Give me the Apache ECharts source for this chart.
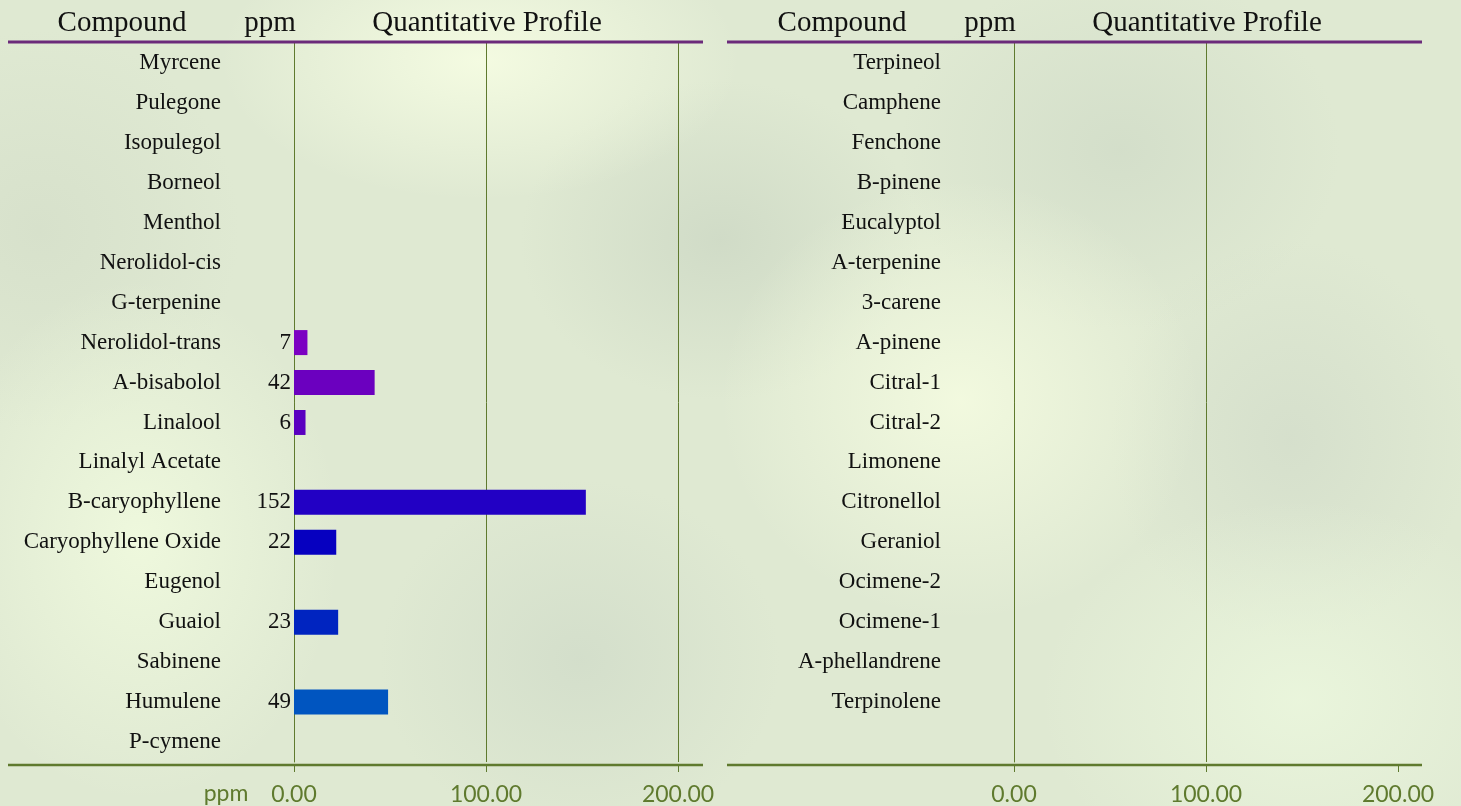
<!DOCTYPE html>
<html>
<head>
    <meta charset="utf-8">
    <title>Quantitative Profile</title>
    <script src="https://cdn.jsdelivr.net/npm/echarts@6/dist/echarts.min.js"></script>
    <style>
        html, body { margin: 0; padding: 0; }
        body {
            width: 1461px; height: 806px; overflow: hidden;
            background-color: #dfe9d2;
            background-image:
                radial-gradient(ellipse 260px 140px at 480px 60px, rgba(245,252,226,0.95), rgba(245,252,226,0)),
                radial-gradient(ellipse 200px 260px at 140px 540px, rgba(240,250,222,0.9), rgba(240,250,222,0)),
                radial-gradient(ellipse 240px 220px at 960px 400px, rgba(244,251,224,0.9), rgba(244,251,224,0)),
                radial-gradient(ellipse 260px 200px at 1300px 700px, rgba(236,248,222,0.8), rgba(236,248,222,0)),
                radial-gradient(ellipse 200px 160px at 720px 240px, rgba(196,208,190,0.55), rgba(196,208,190,0)),
                radial-gradient(ellipse 220px 180px at 1120px 150px, rgba(200,212,194,0.5), rgba(200,212,194,0)),
                radial-gradient(ellipse 200px 180px at 580px 660px, rgba(200,212,196,0.5), rgba(200,212,196,0)),
                radial-gradient(ellipse 180px 200px at 1290px 440px, rgba(204,214,198,0.5), rgba(204,214,198,0)),
                radial-gradient(ellipse 200px 200px at 40px 230px, rgba(205,215,195,0.45), rgba(205,215,195,0));
        }
    </style>
</head>
<body>

<div id="main" style="width: 1461px;height:806px;"></div>

<script type="text/javascript">

    // 左侧化合物
    var leftNames = ['Myrcene', 'Pulegone', 'Isopulegol', 'Borneol', 'Menthol', 'Nerolidol-cis',
        'G-terpenine', 'Nerolidol-trans', 'A-bisabolol', 'Linalool', 'Linalyl Acetate',
        'B-caryophyllene', 'Caryophyllene Oxide', 'Eugenol', 'Guaiol', 'Sabinene',
        'Humulene', 'P-cymene'];
    var leftPpm = [null, null, null, null, null, null, null, 7, 42, 6, null, 152, 22, null, 23, null, 49, null];
    var leftColors = ['', '', '', '', '', '', '', '#7b00c2', '#6b00bf', '#5a00c0', '',
        '#2200c4', '#0600c0', '', '#0024c0', '', '#0055c0', ''];

    // 右侧化合物
    var rightNames = ['Terpineol', 'Camphene', 'Fenchone', 'B-pinene', 'Eucalyptol', 'A-terpenine',
        '3-carene', 'A-pinene', 'Citral-1', 'Citral-2', 'Limonene', 'Citronellol', 'Geraniol',
        'Ocimene-2', 'Ocimene-1', 'A-phellandrene', 'Terpinolene', ''];
    var rightPpm = [null, null, null, null, null, null, null, null, null, null, null, null,
        null, null, null, null, null, null];

    var axisTicks = [0, 100, 200];

    var olive = '#5f7a2e';
    var purple = '#6b2a7a';
    var serif = "'Liberation Serif', 'DejaVu Serif', serif";

    var myChart = echarts.init(document.getElementById('main'));

    function xAxisFor(idx, splitColors) {
        return {
            type: 'value',
            gridIndex: idx,
            min: axisTicks[0],
            max: axisTicks[axisTicks.length - 1],
            interval: axisTicks[1] - axisTicks[0],
            offset: 3,
            axisLine: {show: false},
            axisTick: {show: true, length: 7, lineStyle: {color: olive, width: 1}},
            axisLabel: {
                margin: 18,
                color: olive,
                fontFamily: 'Lato',
                fontSize: 23,
                formatter: function (v) { return v.toFixed(2); }
            },
            splitLine: {show: true, lineStyle: {color: splitColors, width: 1}}
        };
    }

    function yAxisFor(idx, names) {
        return {
            type: 'category',
            gridIndex: idx,
            inverse: true,
            data: names,
            axisLine: {show: true, lineStyle: {color: olive, width: 1}},
            axisTick: {show: false},
            axisLabel: {margin: 73, color: '#111', fontFamily: serif, fontSize: 23, padding: [4, 0, 0, 0]}
        };
    }

    function barSeries(idx, values, colors) {
        return {
            type: 'bar',
            xAxisIndex: idx,
            yAxisIndex: idx,
            barWidth: 25,
            data: values.map(function (v, i) {
                return {value: v, itemStyle: {color: colors[i] || '#0055c0'}};
            }),
            label: {
                show: true,
                position: 'left',
                distance: 3,
                color: '#111',
                fontFamily: serif,
                fontSize: 23,
                padding: [3, 0, 0, 0],
                formatter: '{c}'
            }
        };
    }

    function headerText(x, text) {
        return {
            type: 'text', x: x, y: 23,
            style: {text: text, fill: '#111', font: '29px ' + serif, align: 'center', verticalAlign: 'middle'}
        };
    }

    function hLine(x1, x2, y, color, w) {
        return {type: 'line', shape: {x1: x1, y1: y, x2: x2, y2: y}, style: {stroke: color, lineWidth: w}, z: 5};
    }

    var option = {
        animation: false,
        grid: [
            {left: 294, top: 43, width: 384, height: 720},
            {left: 1014, top: 43, width: 384, height: 720}
        ],
        xAxis: [
            xAxisFor(0, [olive]),
            xAxisFor(1, [olive, olive, 'transparent'])
        ],
        yAxis: [
            yAxisFor(0, leftNames),
            yAxisFor(1, rightNames)
        ],
        series: [
            barSeries(0, leftPpm, leftColors),
            barSeries(1, rightPpm, [])
        ],
        graphic: [
            headerText(122, 'Compound'),
            headerText(270, 'ppm'),
            headerText(487, 'Quantitative Profile'),
            headerText(842, 'Compound'),
            headerText(990, 'ppm'),
            headerText(1207, 'Quantitative Profile'),
            hLine(8, 703, 42, purple, 3),
            hLine(727, 1422, 42, purple, 3),
            hLine(8, 703, 765, olive, 2.5),
            hLine(727, 1422, 765, olive, 2.5),
            {
                type: 'text', x: 226, y: 794,
                style: {text: 'ppm', fill: olive, font: '23px Lato', align: 'center', verticalAlign: 'middle'}
            }
        ]
    };

    myChart.setOption(option);

</script>
</body>
</html>
